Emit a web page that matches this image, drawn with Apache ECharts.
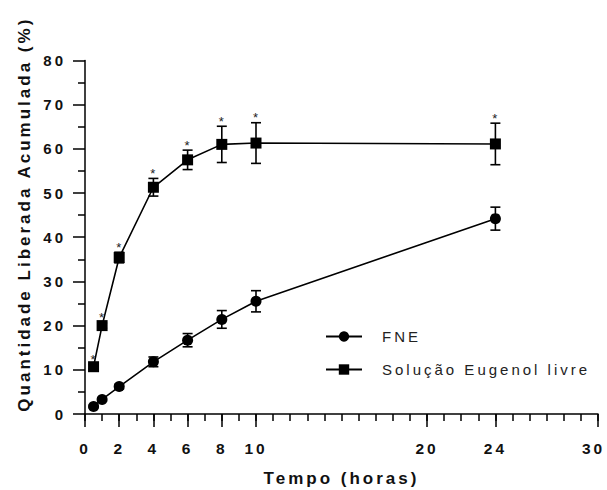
<!DOCTYPE html>
<html>
<head>
<meta charset="utf-8">
<script src="https://cdn.jsdelivr.net/npm/echarts@6/dist/echarts.min.js"></script>
<style>
  html, body { margin: 0; padding: 0; background: #fff; }
  #chart { width: 607px; height: 490px; }
  /* the source figure uses spaced-out lettering */
  #chart text { letter-spacing: 3px; }
</style>
</head>
<body>
<div id="chart"></div>
<script>
// tempo (horas)
const tempo = [0.5, 1, 2, 4, 6, 8, 10, 24];
// FNE
const fne = [1.7, 3.3, 6.2, 11.8, 16.7, 21.4, 25.5, 44.2];
const fneErr = [0.3, 0.4, 0.5, 1.1, 1.5, 2.0, 2.4, 2.6];
// Solução Eugenol livre
const livre = [10.7, 20.0, 35.4, 51.3, 57.5, 61.0, 61.3, 61.1];
const livreErr = [0.5, 0.6, 1.2, 2.0, 2.2, 4.1, 4.6, 4.7];
// labelled ticks on the time axis
const xLabels = [0, 2, 4, 6, 8, 10, 20, 24, 30];

const font = "'Liberation Sans', Arial, sans-serif";

function errorData(ys, errs) {
  return tempo.map((t, i) => [t, ys[i], errs[i]]);
}

function errorBars(star) {
  return function (params, api) {
    const x = api.value(0), y = api.value(1), e = api.value(2);
    const hi = api.coord([x, y + e]);
    const lo = api.coord([x, y - e]);
    const w = 5;
    const st = { stroke: '#000', lineWidth: 1.6 };
    const children = [
      { type: 'line', shape: { x1: hi[0], y1: hi[1], x2: lo[0], y2: lo[1] }, style: st },
      { type: 'line', shape: { x1: hi[0] - w, y1: hi[1], x2: hi[0] + w, y2: hi[1] }, style: st },
      { type: 'line', shape: { x1: lo[0] - w, y1: lo[1], x2: lo[0] + w, y2: lo[1] }, style: st }
    ];
    if (star) {
      children.push({
        type: 'text',
        style: { text: '*', x: hi[0] + 1, y: hi[1] - 5, align: 'center', verticalAlign: 'middle',
                 fontSize: 13, fontFamily: font, fill: '#222' }
      });
    }
    return { type: 'group', children: children };
  };
}

const chart = echarts.init(document.getElementById('chart'), null, { renderer: 'svg' });

chart.setOption({
  animation: false,
  textStyle: { fontFamily: font },
  grid: { left: 85, right: 9, top: 60.4, bottom: 76, outerBoundsMode: 'none' },
  legend: {
    orient: 'vertical',
    left: 325,
    top: 329,
    padding: 0,
    itemWidth: 36,
    itemHeight: 13,
    itemGap: 18,
    data: ['FNE', 'Solução Eugenol livre'],
    textStyle: { fontSize: 15, color: '#222', padding: [0, 0, 0, 15] }
  },
  xAxis: [
    {
      type: 'value',
      min: 0,
      max: 30,
      interval: 1,
      name: 'Tempo (horas)',
      nameLocation: 'middle',
      nameGap: 56,
      nameTextStyle: { fontSize: 17, fontWeight: 'bold', color: '#111' },
      axisLine: { show: true, onZero: false, lineStyle: { color: '#000', width: 1.5 } },
      axisTick: { show: true, length: 7, lineStyle: { color: '#000', width: 1.5 } },
      axisLabel: {
        customValues: xLabels,
        margin: 26,
        fontSize: 15.5,
        fontWeight: 'bold',
        color: '#111',
        // last label sits at the right edge, nudge it inwards
        formatter: v => (v === 30 ? '{e|' + v + '}' : String(v)),
        rich: { e: { fontSize: 15.5, fontWeight: 'bold', color: '#111', padding: [0, 9, 0, 0] } }
      },
      splitLine: { show: false }
    },
    {
      type: 'value',
      position: 'bottom',
      min: 0,
      max: 30,
      axisLine: { show: false },
      axisTick: { show: true, customValues: xLabels, length: 13, lineStyle: { color: '#000', width: 1.5 } },
      axisLabel: { show: false },
      splitLine: { show: false }
    }
  ],
  yAxis: {
    type: 'value',
    min: 0,
    max: 80,
    interval: 10,
    name: 'Quantidade Liberada Acumulada (%)',
    nameLocation: 'middle',
    nameGap: 52,
    nameTextStyle: { fontSize: 17, fontWeight: 'bold', color: '#111', padding: [0, 0, 0, 46] },
    axisLine: { show: true, lineStyle: { color: '#000', width: 1.5 } },
    axisTick: { show: true, length: 12, lineStyle: { color: '#000', width: 1.5 } },
    minorTick: { show: true, splitNumber: 2, length: 7, lineStyle: { color: '#000', width: 1.5 } },
    axisLabel: { margin: 19, fontSize: 15, fontWeight: 'bold', color: '#111' },
    splitLine: { show: false }
  },
  series: [
    {
      type: 'custom',
      name: 'erro FNE',
      renderItem: errorBars(false),
      data: errorData(fne, fneErr),
      encode: { x: 0, y: 1 },
      itemStyle: { color: '#000' },
      clip: false,
      z: 1
    },
    {
      type: 'custom',
      name: 'erro livre',
      renderItem: errorBars(true),
      data: errorData(livre, livreErr),
      encode: { x: 0, y: 1 },
      itemStyle: { color: '#000' },
      clip: false,
      z: 1
    },
    {
      type: 'line',
      name: 'FNE',
      data: tempo.map((t, i) => [t, fne[i]]),
      symbol: 'circle',
      symbolSize: 11,
      lineStyle: { color: '#000', width: 1.6 },
      itemStyle: { color: '#000' },
      z: 3
    },
    {
      type: 'line',
      name: 'Solução Eugenol livre',
      data: tempo.map((t, i) => [t, livre[i]]),
      symbol: 'rect',
      symbolSize: 11,
      lineStyle: { color: '#000', width: 1.6 },
      itemStyle: { color: '#000' },
      z: 3
    }
  ]
});
</script>
</body>
</html>
